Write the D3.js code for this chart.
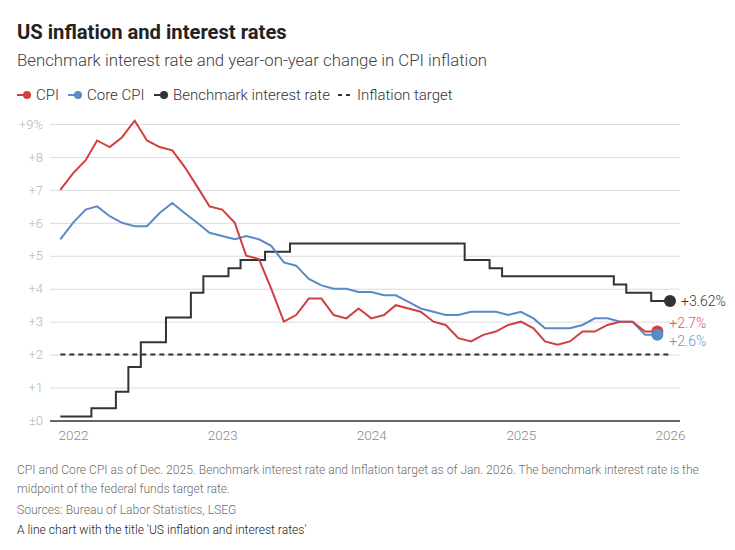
<!DOCTYPE html>
<html>
<head>
<meta charset="utf-8">
<script src="https://cdn.jsdelivr.net/npm/d3@7"></script>
<style>
  body { margin: 0; background: #fff; }
  svg { display: block; font-family: Roboto, "Noto Sans", sans-serif; }
</style>
</head>
<body>
<svg id="chart" width="735" height="550"></svg>
<script>
// monthly series, first month is Dec 2021
const startMonth = new Date(Date.UTC(2021, 11, 1));

// CPI, year-on-year %, Dec 2021 - Dec 2025
const cpi = [7.0,
  7.5, 7.9, 8.5, 8.3, 8.6, 9.1, 8.5, 8.3, 8.2, 7.7, 7.1, 6.5,
  6.4, 6.0, 5.0, 4.9, 4.0, 3.0, 3.2, 3.7, 3.7, 3.2, 3.1, 3.4,
  3.1, 3.2, 3.5, 3.4, 3.3, 3.0, 2.9, 2.5, 2.4, 2.6, 2.7, 2.9,
  3.0, 2.8, 2.4, 2.3, 2.4, 2.7, 2.7, 2.9, 3.0, 3.0, 2.7, 2.7];

// Core CPI, year-on-year %, Dec 2021 - Dec 2025
const coreCpi = [5.5,
  6.0, 6.4, 6.5, 6.2, 6.0, 5.9, 5.9, 6.3, 6.6, 6.3, 6.0, 5.7,
  5.6, 5.5, 5.6, 5.5, 5.3, 4.8, 4.7, 4.3, 4.1, 4.0, 4.0, 3.9,
  3.9, 3.8, 3.8, 3.6, 3.4, 3.3, 3.2, 3.2, 3.3, 3.3, 3.3, 3.2,
  3.3, 3.1, 2.8, 2.8, 2.8, 2.9, 3.1, 3.1, 3.0, 3.0, 2.6, 2.6];

// fed funds target midpoint, Dec 2021 - Jan 2026
const benchmark = [0.125,
  0.125, 0.125, 0.375, 0.375, 0.875, 1.625, 2.375, 2.375, 3.125, 3.125, 3.875, 4.375,
  4.375, 4.625, 4.875, 4.875, 5.125, 5.125, 5.375, 5.375, 5.375, 5.375, 5.375, 5.375,
  5.375, 5.375, 5.375, 5.375, 5.375, 5.375, 5.375, 5.375, 4.875, 4.875, 4.625, 4.375,
  4.375, 4.375, 4.375, 4.375, 4.375, 4.375, 4.375, 4.375, 4.125, 3.875, 3.875, 3.625,
  3.625];

const inflationTarget = 2;

const yTicks = [0, 1, 2, 3, 4, 5, 6, 7, 8, 9];
const yTickLabels = ["±0", "+1", "+2", "+3", "+4", "+5", "+6", "+7", "+8", "+9%"];
const xTickYears = [2022, 2023, 2024, 2025, 2026];

const red = "#d23f3f", blue = "#5a8ac8", dark = "#333333";

const svg = d3.select("#chart");

const monthDate = i => d3.utcMonth.offset(startMonth, i);

const x = d3.scaleUtc()
  .domain([new Date(Date.UTC(2022, 0, 1)), new Date(Date.UTC(2026, 0, 1))])
  .range([73, 670]);
const y = d3.scaleLinear().domain([0, 9]).range([420.5, 124]);

const plotLeft = 50, plotRight = 680;

// title block
svg.append("text").attr("x", 17).attr("y", 39)
  .attr("font-size", 20.2).attr("font-weight", 700).attr("fill", "#222")
  .text("US inflation and interest rates");
svg.append("text").attr("x", 17).attr("y", 65.5)
  .attr("font-size", 16.8).attr("font-weight", 300).attr("fill", "#404040")
  .text("Benchmark interest rate and year-on-year change in CPI inflation");

// legend
const legendItems = [
  {label: "CPI", color: red, x: 17, dash: false},
  {label: "Core CPI", color: blue, x: 68, dash: false},
  {label: "Benchmark interest rate", color: dark, x: 154, dash: false},
  {label: "Inflation target", color: dark, x: 338, dash: true}
];
const lg = svg.append("g").attr("transform", "translate(0,95)");
legendItems.forEach(d => {
  if (d.dash) {
    lg.append("line").attr("x1", d.x).attr("x2", d.x + 14).attr("y1", 0).attr("y2", 0)
      .attr("stroke", d.color).attr("stroke-width", 2).attr("stroke-dasharray", "4,4");
  } else {
    lg.append("line").attr("x1", d.x).attr("x2", d.x + 10).attr("y1", 0).attr("y2", 0)
      .attr("stroke", d.color).attr("stroke-width", 2);
    lg.append("circle").attr("cx", d.x + 10).attr("cy", 0).attr("r", 4).attr("fill", d.color);
  }
  lg.append("text").attr("x", d.x + 19).attr("y", 5)
    .attr("font-size", 15).attr("font-weight", 300).attr("fill", "#333")
    .text(d.label);
});

// y gridlines + labels
const yAxis = svg.append("g").attr("transform", `translate(${plotLeft},0)`)
  .call(d3.axisLeft(y).tickValues(yTicks)
    .tickSize(-(plotRight - plotLeft))
    .tickPadding(7)
    .tickFormat((d, i) => yTickLabels[i]));
yAxis.select(".domain").remove();
yAxis.selectAll(".tick line").attr("stroke", "#dcdcdc").attr("stroke-width", 1);
yAxis.selectAll(".tick text").attr("fill", "#b5b5b5").attr("font-size", 13)
  .attr("font-weight", 300).attr("font-family", "Roboto, sans-serif");
yAxis.selectAll(".tick").filter(d => d === 0).select("line")
  .attr("stroke", dark).attr("stroke-width", 1.5);

// x axis labels
const xAxis = svg.append("g").attr("transform", `translate(0,${y(0)})`)
  .call(d3.axisBottom(x)
    .tickValues(xTickYears.map(yr => new Date(Date.UTC(yr, 0, 1))))
    .tickSize(0).tickPadding(10)
    .tickFormat(d3.utcFormat("%Y")));
xAxis.select(".domain").remove();
xAxis.selectAll(".tick text").attr("fill", "#8a8a8a").attr("font-size", 13.5)
  .attr("font-weight", 300).attr("font-family", "Roboto, sans-serif");

// inflation target
svg.append("line")
  .attr("x1", x(monthDate(0))).attr("x2", x(monthDate(benchmark.length - 1)))
  .attr("y1", y(inflationTarget)).attr("y2", y(inflationTarget))
  .attr("stroke", dark).attr("stroke-width", 2).attr("stroke-dasharray", "5,4");

const line = d3.line().x((d, i) => x(monthDate(i))).y(d => y(d));

svg.append("path").datum(benchmark)
  .attr("d", line.curve(d3.curveStep))
  .attr("fill", "none").attr("stroke", dark).attr("stroke-width", 2);

svg.append("path").datum(coreCpi)
  .attr("d", line.curve(d3.curveLinear))
  .attr("fill", "none").attr("stroke", blue).attr("stroke-width", 2);

svg.append("path").datum(cpi)
  .attr("d", line.curve(d3.curveLinear))
  .attr("fill", "none").attr("stroke", red).attr("stroke-width", 2);

// end markers and labels
const ends = [
  {data: benchmark, color: dark, label: "+3.62%", dx: 11, dy: 0, textColor: "#333"},
  {data: cpi, color: red, label: "+2.7%", dx: 12, dy: -8, textColor: "#d9595a"},
  {data: coreCpi, color: blue, label: "+2.6%", dx: 12, dy: 6, textColor: "#6b95cc"}
];
ends.forEach(e => {
  const i = e.data.length - 1;
  svg.append("circle").attr("cx", x(monthDate(i))).attr("cy", y(e.data[i]))
    .attr("r", 6).attr("fill", e.color);
  svg.append("text").attr("x", x(monthDate(i)) + e.dx).attr("y", y(e.data[i]) + e.dy)
    .attr("dy", "0.35em").attr("font-size", 14).attr("font-weight", 300)
    .attr("fill", e.textColor).text(e.label);
});

// footer notes
const notes = [
  {text: "CPI and Core CPI as of Dec. 2025. Benchmark interest rate and Inflation target as of Jan. 2026. The benchmark interest rate is the", y: 474, color: "#6e6e6e"},
  {text: "midpoint of the federal funds target rate.", y: 493, color: "#6e6e6e"},
  {text: "Sources: Bureau of Labor Statistics, LSEG", y: 514, color: "#6e6e6e"},
  {text: "A line chart with the title 'US inflation and interest rates'", y: 534, color: "#222"}
];
svg.selectAll("text.note").data(notes).enter().append("text")
  .attr("class", "note").attr("x", 17).attr("y", d => d.y)
  .attr("font-size", 12.1).attr("font-weight", 300).attr("fill", d => d.color)
  .text(d => d.text);
</script>
</body>
</html>
